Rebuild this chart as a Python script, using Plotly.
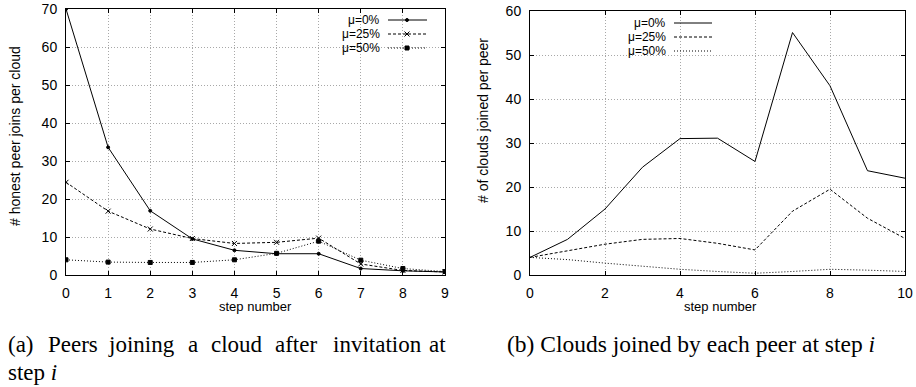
import plotly.graph_objects as go

# ---- data ----
steps_a = [0, 1, 2, 3, 4, 5, 6, 7, 8, 9]
a_mu0 = [70.0, 33.6, 16.9, 9.5, 6.5, 5.6, 5.6, 1.7, 1.1, 0.8]
a_mu25 = [24.4, 16.8, 12.1, 9.6, 8.3, 8.6, 9.7, 2.9, 1.2, 0.8]
a_mu50 = [4.0, 3.4, 3.3, 3.3, 4.0, 5.7, 8.9, 3.9, 1.7, 0.9]

steps_b = [0, 1, 2, 3, 4, 5, 6, 7, 8, 9, 10]
b_mu0 = [4.0, 8.1, 15.0, 24.5, 31.0, 31.1, 25.8, 55.1, 43.0, 23.7, 22.0]
b_mu25 = [4.0, 5.5, 7.0, 8.1, 8.3, 7.2, 5.7, 14.5, 19.5, 12.9, 8.3]
b_mu50 = [4.0, 3.5, 2.7, 2.0, 1.3, 0.8, 0.4, 0.8, 1.3, 1.1, 0.8]

series_names = ["μ=0%", "μ=25%", "μ=50%"]
xticks_a = list(range(0, 10))
xticks_b = [0, 2, 4, 6, 8, 10]
yticks_a = [0, 10, 20, 30, 40, 50, 60, 70]
yticks_b = [0, 10, 20, 30, 40, 50, 60]

W, H = 916, 387
def px(x): return x / W
def py(y): return 1 - y / H

FONT = "Liberation Sans, Arial, sans-serif"
SERIF = "Liberation Serif, Times New Roman, serif"
dashes = ["solid", "3px,2px", "1px,2px"]
symbols_a = ["circle", "x-thin", "square"]
msize = [3, 5, 4]

fig = go.Figure()
for i, ys in enumerate([a_mu0, a_mu25, a_mu50]):
    fig.add_trace(go.Scatter(
        x=steps_a, y=ys, mode="lines+markers", name=series_names[i],
        line=dict(color="black", width=1, dash=dashes[i]),
        marker=dict(symbol=symbols_a[i], size=msize[i], color="black",
                    line=dict(color="black", width=1)),
        xaxis="x", yaxis="y", showlegend=False))
for i, ys in enumerate([b_mu0, b_mu25, b_mu50]):
    fig.add_trace(go.Scatter(
        x=steps_b, y=ys, mode="lines", name=series_names[i],
        line=dict(color="black", width=1, dash=dashes[i]),
        xaxis="x2", yaxis="y2", showlegend=False))

axis_common = dict(
    showline=True, linecolor="black", linewidth=1, mirror="ticks",
    ticks="inside", ticklen=4, tickcolor="black", tickwidth=1,
    showgrid=True, gridcolor="#a8a8a8", gridwidth=1, griddash="1px,2px",
    zeroline=False, automargin=False,
    tickfont=dict(family=FONT, size=14, color="black"),
)

fig.update_layout(
    width=W, height=H, margin=dict(l=0, r=0, t=0, b=0, autoexpand=False),
    paper_bgcolor="white", plot_bgcolor="white",
    xaxis=dict(domain=[px(66), px(445)], range=[0, 9], tickvals=xticks_a,
               anchor="y", ticklabelstandoff=5, **axis_common),
    yaxis=dict(domain=[py(275), py(9)], range=[0, 70], tickvals=yticks_a,
               anchor="x", ticklabelstandoff=5, **axis_common),
    xaxis2=dict(domain=[px(530), px(905)], range=[0, 10], tickvals=xticks_b,
                anchor="y2", ticklabelstandoff=5, **axis_common),
    yaxis2=dict(domain=[py(275), py(11)], range=[0, 60], tickvals=yticks_b,
                anchor="x2", ticklabelstandoff=5, **axis_common),
    showlegend=False,
)

shapes = []
annots = []

# legend boxes (white, hide grid)
shapes.append(dict(type="rect", xref="paper", yref="paper", layer="between",
                   x0=px(332), x1=px(438), y0=py(56), y1=py(10),
                   fillcolor="white", line=dict(width=0)))
shapes.append(dict(type="rect", xref="paper", yref="paper", layer="between",
                   x0=px(531), x1=px(718), y0=py(58), y1=py(12),
                   fillcolor="white", line=dict(width=0)))

legend_a_rows = [20, 34, 48]
legend_b_rows = [23, 37, 51]
LEG_SIZE = 12
for i, name in enumerate(series_names):
    # left legend
    yr = legend_a_rows[i]
    annots.append(dict(text=name, xref="paper", yref="paper", x=px(382), y=py(yr),
                       xanchor="right", yanchor="middle", showarrow=False,
                       font=dict(family=FONT, size=LEG_SIZE, color="black")))
    shapes.append(dict(type="line", xref="paper", yref="paper", layer="above",
                       x0=px(388), x1=px(427), y0=py(yr), y1=py(yr),
                       line=dict(color="black", width=1, dash=dashes[i])))
    cx = 407
    if i == 0:
        shapes.append(dict(type="circle", xref="paper", yref="paper", layer="above",
                           x0=px(cx - 1.5), x1=px(cx + 1.5), y0=py(yr + 1.5), y1=py(yr - 1.5),
                           fillcolor="black", line=dict(color="black", width=1)))
    elif i == 1:
        for sgn in (1, -1):
            shapes.append(dict(type="line", xref="paper", yref="paper", layer="above",
                               x0=px(cx - 2.5), x1=px(cx + 2.5),
                               y0=py(yr - 2.5 * sgn), y1=py(yr + 2.5 * sgn),
                               line=dict(color="black", width=1)))
    else:
        shapes.append(dict(type="rect", xref="paper", yref="paper", layer="above",
                           x0=px(cx - 2), x1=px(cx + 2), y0=py(yr + 2), y1=py(yr - 2),
                           fillcolor="black", line=dict(color="black", width=1)))
    # right legend
    yr = legend_b_rows[i]
    annots.append(dict(text=name, xref="paper", yref="paper", x=px(668), y=py(yr),
                       xanchor="right", yanchor="middle", showarrow=False,
                       font=dict(family=FONT, size=LEG_SIZE, color="black")))
    shapes.append(dict(type="line", xref="paper", yref="paper", layer="above",
                       x0=px(674), x1=px(712), y0=py(yr), y1=py(yr),
                       line=dict(color="black", width=1, dash=dashes[i])))

# axis titles
annots.append(dict(text="# honest peer joins per cloud", xref="paper", yref="paper",
                   x=px(15), y=py(136), textangle=-90, showarrow=False,
                   xanchor="center", yanchor="middle",
                   font=dict(family=FONT, size=14, color="black")))
annots.append(dict(text="# of clouds joined per peer", xref="paper", yref="paper",
                   x=px(483), y=py(121), textangle=-90, showarrow=False,
                   xanchor="center", yanchor="middle",
                   font=dict(family=FONT, size=14, color="black")))
annots.append(dict(text="step number", xref="paper", yref="paper",
                   x=px(255), y=py(306), showarrow=False, xanchor="center", yanchor="middle",
                   font=dict(family=FONT, size=13, color="black")))
annots.append(dict(text="step number", xref="paper", yref="paper",
                   x=px(720), y=py(306), showarrow=False, xanchor="center", yanchor="middle",
                   font=dict(family=FONT, size=13, color="black")))

# captions: (a) is justified across the column, so words are placed individually
cap_a_words = ["(a)", "Peers", "joining", "a", "cloud", "after", "invitation", "at"]
cap_a_left = [7, 47, 107, 187, 210, 274, 332, 428]
for w, xl in zip(cap_a_words, cap_a_left):
    annots.append(dict(text=w, xref="paper", yref="paper",
                       x=px(xl), y=py(344), showarrow=False, xanchor="left", yanchor="middle",
                       xshift=-1, font=dict(family=SERIF, size=23, color="black")))
annots.append(dict(text="step <i>i</i>", xref="paper", yref="paper",
                   x=px(7), y=py(372), showarrow=False, xanchor="left", yanchor="middle",
                   xshift=-1, font=dict(family=SERIF, size=23, color="black")))
annots.append(dict(text="(b) Clouds joined by each peer at step <i>i</i>", xref="paper", yref="paper",
                   x=px(506), y=py(344), showarrow=False, xanchor="left", yanchor="middle",
                   xshift=-1, font=dict(family=SERIF, size=23.5, color="black")))

fig.update_layout(shapes=shapes, annotations=annots)
fig.write_html("out.html", config={"displayModeBar": False},
               post_script="document.body.style.margin='0';")
